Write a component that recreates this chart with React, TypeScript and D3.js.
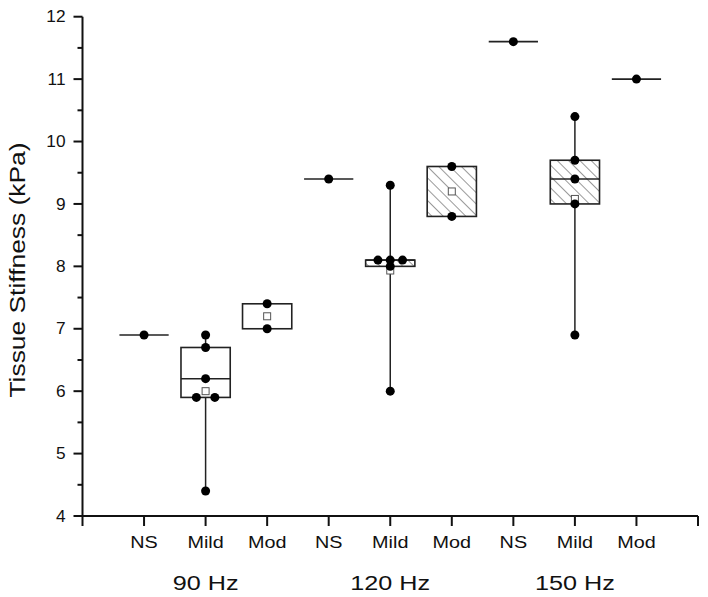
import React, { useEffect, useRef } from "react";
import * as d3 from "d3";

// Category labels along the x axis (positions 1..9)
const categories = ["NS", "Mild", "Mod", "NS", "Mild", "Mod", "NS", "Mild", "Mod"];
// Frequency groups, centred under Mild of each group
const groups = ["90 Hz", "120 Hz", "150 Hz"];
const groupCenters = [2, 5, 8];

// Individual data points per category
const ns90 = [6.9];
const mild90 = [6.9, 6.7, 6.2, 5.9, 5.9, 4.4];
const mod90 = [7.4, 7.0];
const ns120 = [9.4];
const mild120 = [9.3, 8.1, 8.1, 8.1, 8.0, 6.0];
const mod120 = [9.6, 8.8];
const ns150 = [11.6];
const mild150 = [10.4, 9.7, 9.4, 9.0, 6.9];
const mod150 = [11.0];
const pointSets = [ns90, mild90, mod90, ns120, mild120, mod120, ns150, mild150, mod150];

// Box statistics
const boxQ1 = [6.9, 5.9, 7.0, 9.4, 8.0, 8.8, 11.6, 9.0, 11.0];
const boxQ3 = [6.9, 6.7, 7.4, 9.4, 8.1, 9.6, 11.6, 9.7, 11.0];
const boxMedian: (number | null)[] = [null, 6.2, null, null, 8.1, null, null, 9.4, null];
const hatched = [false, false, false, false, true, true, false, true, false];

// Y ticks
const yMajorTicks = [4, 5, 6, 7, 8, 9, 10, 11, 12];
const yMinorTicks = [4.5, 5.5, 6.5, 7.5, 8.5, 9.5, 10.5, 11.5];
const xTicks = [0, 1, 2, 3, 4, 5, 6, 7, 8, 9, 10];

const W = 708;
const H = 597;
const FONT = "Arial, 'Liberation Sans', sans-serif";
const STRETCH = 1.2;

export default function App() {
  const ref = useRef<SVGSVGElement | null>(null);

  useEffect(() => {
    const svg = d3.select(ref.current);
    svg.selectAll("*").remove();

    const x = d3.scaleLinear().domain([0, 10]).range([82.5, 698]);
    const y = d3.scaleLinear().domain([4, 12]).range([516, 16.7]);
    const halfW = (x(0.8) - x(0)) / 2;

    const defs = svg.append("defs");
    const pat = defs
      .append("pattern")
      .attr("id", "hatch")
      .attr("patternUnits", "userSpaceOnUse")
      .attr("width", 8)
      .attr("height", 8)
      .attr("patternTransform", "rotate(-45)");
    pat.append("rect").attr("width", 8).attr("height", 8).attr("fill", "white");
    pat
      .append("line")
      .attr("x1", 0)
      .attr("y1", 0)
      .attr("x2", 0)
      .attr("y2", 8)
      .attr("stroke", "#555")
      .attr("stroke-width", 1.2);

    // Y axis
    const yAxis = svg.append("g").attr("transform", `translate(${x(0)},0)`);
    yAxis
      .append("line")
      .attr("x1", 0)
      .attr("x2", 0)
      .attr("y1", y(12))
      .attr("y2", y(4))
      .attr("stroke", "#111")
      .attr("stroke-width", 2);
    yAxis
      .selectAll("line.major")
      .data(yMajorTicks)
      .enter()
      .append("line")
      .attr("class", "major")
      .attr("x1", -9)
      .attr("x2", 0)
      .attr("y1", (d) => y(d))
      .attr("y2", (d) => y(d))
      .attr("stroke", "#111")
      .attr("stroke-width", 2);
    yAxis
      .selectAll("line.minor")
      .data(yMinorTicks)
      .enter()
      .append("line")
      .attr("class", "minor")
      .attr("x1", -5)
      .attr("x2", 0)
      .attr("y1", (d) => y(d))
      .attr("y2", (d) => y(d))
      .attr("stroke", "#111")
      .attr("stroke-width", 2);
    yAxis
      .selectAll("text")
      .data(yMajorTicks)
      .enter()
      .append("text")
      .attr("transform", (d) => `translate(-17,${y(d)}) scale(1.08,1)`)
      .attr("dy", "0.35em")
      .attr("text-anchor", "end")
      .attr("font-family", FONT)
      .attr("font-size", 16)
      .attr("fill", "#111")
      .text((d) => String(d));

    svg
      .append("text")
      .attr("transform", `translate(25,270) rotate(-90) scale(${STRETCH},1)`)
      .attr("text-anchor", "middle")
      .attr("font-family", FONT)
      .attr("font-size", 22)
      .attr("fill", "#111")
      .text("Tissue Stiffness (kPa)");

    // X axis
    const xAxis = svg.append("g").attr("transform", `translate(0,${y(4)})`);
    xAxis
      .append("line")
      .attr("x1", x(0))
      .attr("x2", x(10))
      .attr("y1", 0)
      .attr("y2", 0)
      .attr("stroke", "#111")
      .attr("stroke-width", 2);
    xAxis
      .selectAll("line.tick")
      .data(xTicks)
      .enter()
      .append("line")
      .attr("class", "tick")
      .attr("x1", (d) => x(d))
      .attr("x2", (d) => x(d))
      .attr("y1", 0)
      .attr("y2", 10)
      .attr("stroke", "#111")
      .attr("stroke-width", 2);
    xAxis
      .selectAll("text.cat")
      .data(categories)
      .enter()
      .append("text")
      .attr("class", "cat")
      .attr("transform", (_d, i) => `translate(${x(i + 1)},32) scale(${STRETCH},1)`)
      .attr("text-anchor", "middle")
      .attr("font-family", FONT)
      .attr("font-size", 16.5)
      .attr("fill", "#111")
      .text((d) => d);
    xAxis
      .selectAll("text.grp")
      .data(groups)
      .enter()
      .append("text")
      .attr("class", "grp")
      .attr("transform", (_d, i) => `translate(${x(groupCenters[i])},74) scale(${STRETCH},1)`)
      .attr("text-anchor", "middle")
      .attr("font-family", FONT)
      .attr("font-size", 21)
      .attr("fill", "#111")
      .text((d) => d);

    // Boxes
    pointSets.forEach((pts, i) => {
      const cx = x(i + 1);
      const g = svg.append("g");
      const [mn, mx] = d3.extent(pts) as [number, number];
      const q1 = boxQ1[i];
      const q3 = boxQ3[i];
      // whiskers
      if (mx > q3) {
        g.append("line")
          .attr("x1", cx)
          .attr("x2", cx)
          .attr("y1", y(mx))
          .attr("y2", y(q3))
          .attr("stroke", "#222")
          .attr("stroke-width", 1.5);
      }
      if (mn < q1) {
        g.append("line")
          .attr("x1", cx)
          .attr("x2", cx)
          .attr("y1", y(q1))
          .attr("y2", y(mn))
          .attr("stroke", "#222")
          .attr("stroke-width", 1.5);
      }
      if (q3 > q1) {
        g.append("rect")
          .attr("x", cx - halfW)
          .attr("y", y(q3))
          .attr("width", halfW * 2)
          .attr("height", y(q1) - y(q3))
          .attr("fill", hatched[i] ? "url(#hatch)" : "white")
          .attr("stroke", "#222")
          .attr("stroke-width", 1.6);
      } else {
        g.append("line")
          .attr("x1", cx - halfW)
          .attr("x2", cx + halfW)
          .attr("y1", y(q1))
          .attr("y2", y(q1))
          .attr("stroke", "#222")
          .attr("stroke-width", 1.6);
      }
      const med = boxMedian[i];
      if (med !== null) {
        g.append("line")
          .attr("x1", cx - halfW)
          .attr("x2", cx + halfW)
          .attr("y1", y(med))
          .attr("y2", y(med))
          .attr("stroke", "#222")
          .attr("stroke-width", 1.6);
      }
      // mean marker
      if (pts.length > 1) {
        const m = d3.mean(pts) as number;
        g.append("rect")
          .attr("x", cx - 3.5)
          .attr("y", y(m) - 3.5)
          .attr("width", 7)
          .attr("height", 7)
          .attr("fill", "white")
          .attr("stroke", "#555")
          .attr("stroke-width", 1);
      }
      // points, duplicates spread horizontally
      const counts = d3.rollup(pts, (v) => v.length, (d) => d);
      const seen = new Map<number, number>();
      pts.forEach((v) => {
        const n = counts.get(v) as number;
        const k = seen.get(v) || 0;
        seen.set(v, k + 1);
        const step = 0.6 / n;
        const off = (k - (n - 1) / 2) * step;
        g.append("circle")
          .attr("cx", x(i + 1 + off))
          .attr("cy", y(v))
          .attr("r", 4.5)
          .attr("fill", "#000");
      });
    });
  }, []);

  return (
    <svg
      ref={ref}
      width={W}
      height={H}
      style={{ position: "absolute", left: 0, top: 0, background: "white" }}
    />
  );
}
